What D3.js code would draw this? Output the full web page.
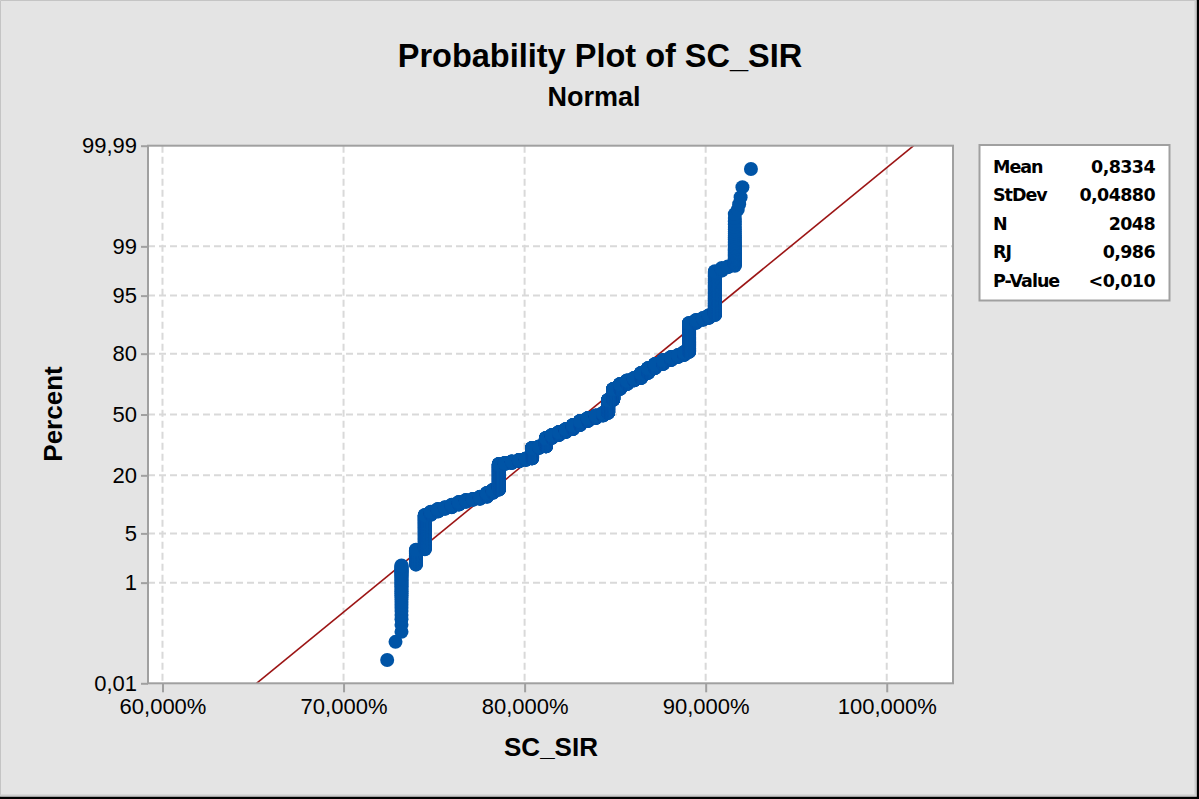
<!DOCTYPE html>
<html><head><meta charset="utf-8">
<script src="https://cdn.jsdelivr.net/npm/d3@7"></script>
<style>body{margin:0;background:#e4e4e4;}svg{display:block;}</style>
</head><body>
<svg id="chart" width="1199" height="799"></svg>
<script>
// ---- data ----
// distinct SC_SIR values (in %) and how many of the 2048 observations have each
const values = [72.41,72.87,73.20,74.00,74.49,74.82,75.21,75.60,75.98,76.37,76.76,77.14,77.53,77.92,78.25,78.58,78.91,79.30,79.69,80.07,80.41,80.80,81.18,81.51,81.90,82.28,82.67,83.06,83.50,83.94,84.33,84.61,84.89,85.27,85.66,86.04,86.43,86.82,87.20,87.65,88.09,88.48,88.81,89.08,89.47,89.85,90.18,90.51,90.89,91.22,91.61,91.77,91.85,91.93,92.03,92.50];
const counts = [1,1,36,25,106,14,13,8,13,15,11,6,12,24,20,201,9,14,14,13,104,14,90,32,33,32,45,45,34,28,29,146,119,52,36,25,49,46,37,34,26,16,24,186,15,9,13,125,5,2,36,1,1,1,1,1];
const xTicks = [60,70,80,90,100];
const xTickLabels = ["60,000%","70,000%","80,000%","90,000%","100,000%"];
const yTicks = [0.01,1,5,20,50,80,95,99,99.99];
const yTickLabels = ["0,01","1","5","20","50","80","95","99","99,99"];
const statNames = ["Mean","StDev","N","RJ","P-Value"];
const statValues = ["0,8334","0,04880","2048","0,986","<0,010"];
const fitMean = 0.8334, fitSd = 0.04880;

// inverse normal CDF (Acklam)
function probit(p){
  const a=[-3.969683028665376e+01,2.209460984245205e+02,-2.759285104469687e+02,1.383577518672690e+02,-3.066479806614716e+01,2.506628277459239e+00];
  const b=[-5.447609879822406e+01,1.615858368580409e+02,-1.556989798598866e+02,6.680131188771972e+01,-1.328068155288572e+01];
  const c=[-7.784894002430293e-03,-3.223964580411365e-01,-2.400758277161838e+00,-2.549732539343734e+00,4.374664141464968e+00,2.938163982698783e+00];
  const d=[7.784695709041462e-03,3.224671290700398e-01,2.445134137142996e+00,3.754408661907416e+00];
  const pl=0.02425;
  if(p<pl){const q=Math.sqrt(-2*Math.log(p));return (((((c[0]*q+c[1])*q+c[2])*q+c[3])*q+c[4])*q+c[5])/((((d[0]*q+d[1])*q+d[2])*q+d[3])*q+1);}
  if(p<=1-pl){const q=p-0.5,r=q*q;return (((((a[0]*r+a[1])*r+a[2])*r+a[3])*r+a[4])*r+a[5])*q/(((((b[0]*r+b[1])*r+b[2])*r+b[3])*r+b[4])*r+1);}
  const q=Math.sqrt(-2*Math.log(1-p));return -(((((c[0]*q+c[1])*q+c[2])*q+c[3])*q+c[4])*q+c[5])/((((d[0]*q+d[1])*q+d[2])*q+d[3])*q+1);
}

const svg = d3.select("#chart");
const W=1199,H=799;
const L=148,R=953,T=145.7,B=683.3;

// background & frame
svg.append("rect").attr("x",0).attr("y",0).attr("width",W).attr("height",H).attr("fill","#e4e4e4");
svg.append("path").attr("d",`M0.5,${H} V0.5 H${W}`).attr("fill","none").attr("stroke","#c4c4c4").attr("stroke-width",1);
svg.append("path").attr("d",`M0,795.5 H1195.5 V0`).attr("fill","none").attr("stroke","#cccccc").attr("stroke-width",2);
svg.append("path").attr("d",`M0,798 H1198 V0`).attr("fill","none").attr("stroke","#000").attr("stroke-width",2.4);

const x = d3.scaleLinear().domain([59.2,103.66]).range([L,R]);
const yz = d3.scaleLinear().domain([probit(0.0001),probit(0.9999)]).range([B,T]);
const y = p => yz(probit(p/100));

// plot area
svg.append("rect").attr("x",L).attr("y",T).attr("width",R-L).attr("height",B-T).attr("fill","#fff");

// grid
const grid = svg.append("g").attr("stroke","#d9d9d9").attr("stroke-width",2).attr("stroke-dasharray","7,4");
grid.selectAll("line.v").data(xTicks).join("line").attr("class","v")
  .attr("x1",d=>x(d)).attr("x2",d=>x(d)).attr("y1",T).attr("y2",B);
grid.selectAll("line.h").data(yTicks.slice(1,-1)).join("line").attr("class","h")
  .attr("y1",d=>y(d)).attr("y2",d=>y(d)).attr("x1",L).attr("x2",R);

// clip
svg.append("clipPath").attr("id","clip").append("rect").attr("x",L).attr("y",T).attr("width",R-L).attr("height",B-T);

// fitted line
const zEnds=[0.0001,0.9999];
const line = d3.line().x(p=>x((fitMean+probit(p)*fitSd)*100)).y(p=>y(p*100));
svg.append("path").attr("clip-path","url(#clip)").attr("d",line(zEnds))
  .attr("fill","none").attr("stroke","#9c1515").attr("stroke-width",1.6);

// points
const n = d3.sum(counts);
const pts=[];
let rank=0;
values.forEach((v,i)=>{ for(let k=0;k<counts[i];k++){ rank++; pts.push({v, p:(rank-0.3)/(n+0.4)}); } });
svg.append("g").attr("clip-path","url(#clip)").selectAll("circle").data(pts).join("circle")
  .attr("cx",d=>x(d.v)).attr("cy",d=>y(d.p*100)).attr("r",7).attr("fill","#0054a6");

// frame of plot
svg.append("rect").attr("x",L).attr("y",T).attr("width",R-L).attr("height",B-T)
  .attr("fill","none").attr("stroke","#a0a0a0").attr("stroke-width",2);

// axes
const xAxis = d3.axisBottom(x).tickValues(xTicks).tickFormat((d,i)=>xTickLabels[i]).tickSize(9).tickPadding(5);
const gx = svg.append("g").attr("transform",`translate(0,${B})`).call(xAxis);
gx.select(".domain").remove();
gx.selectAll(".tick line").attr("stroke","#a0a0a0").attr("stroke-width",2);
gx.selectAll(".tick text").attr("font-family","Liberation Sans, Arial, sans-serif").attr("font-size",22).attr("fill","#000").attr("dy","0.75em");

const yAxis = d3.axisLeft(yz).tickValues(yTicks.map(p=>probit(p/100))).tickFormat((d,i)=>yTickLabels[i]).tickSize(7).tickPadding(4);
const gy = svg.append("g").attr("transform",`translate(${L},0)`).call(yAxis);
gy.select(".domain").remove();
gy.selectAll(".tick line").attr("stroke","#a0a0a0").attr("stroke-width",2);
gy.selectAll(".tick text").attr("font-family","Liberation Sans, Arial, sans-serif").attr("font-size",22).attr("fill","#000");

// titles
svg.append("text").attr("x",600).attr("y",67).attr("text-anchor","middle")
  .attr("font-family","Liberation Sans, Arial, sans-serif").attr("font-size",32.5).attr("font-weight","bold").text("Probability Plot of SC_SIR");
svg.append("text").attr("x",594).attr("y",106).attr("text-anchor","middle")
  .attr("font-family","Liberation Sans, Arial, sans-serif").attr("font-size",27).attr("font-weight","bold").text("Normal");
svg.append("text").attr("x",551).attr("y",756).attr("text-anchor","middle")
  .attr("font-family","Liberation Sans, Arial, sans-serif").attr("font-size",26).attr("font-weight","bold").text("SC_SIR");
svg.append("text").attr("transform","translate(62,414) rotate(-90)").attr("text-anchor","middle")
  .attr("font-family","Liberation Sans, Arial, sans-serif").attr("font-size",26).attr("font-weight","bold").text("Percent");

// stats box
svg.append("rect").attr("x",979.5).attr("y",145).attr("width",190).attr("height",155.5)
  .attr("fill","#fff").attr("stroke","#a0a0a0").attr("stroke-width",2);
const sg = svg.append("g").attr("font-family","DejaVu Sans, Verdana, sans-serif").attr("font-size",17.5).attr("font-weight","bold").attr("fill","#000");
statNames.forEach((s,i)=>{
  const by = 173 + i*28.4;
  sg.append("text").attr("x",993).attr("y",by).attr("letter-spacing","-1").text(s);
  sg.append("text").attr("x",1155).attr("y",by).attr("text-anchor","end").attr("letter-spacing","-0.6").text(statValues[i]);
});
</script>
</body></html>
